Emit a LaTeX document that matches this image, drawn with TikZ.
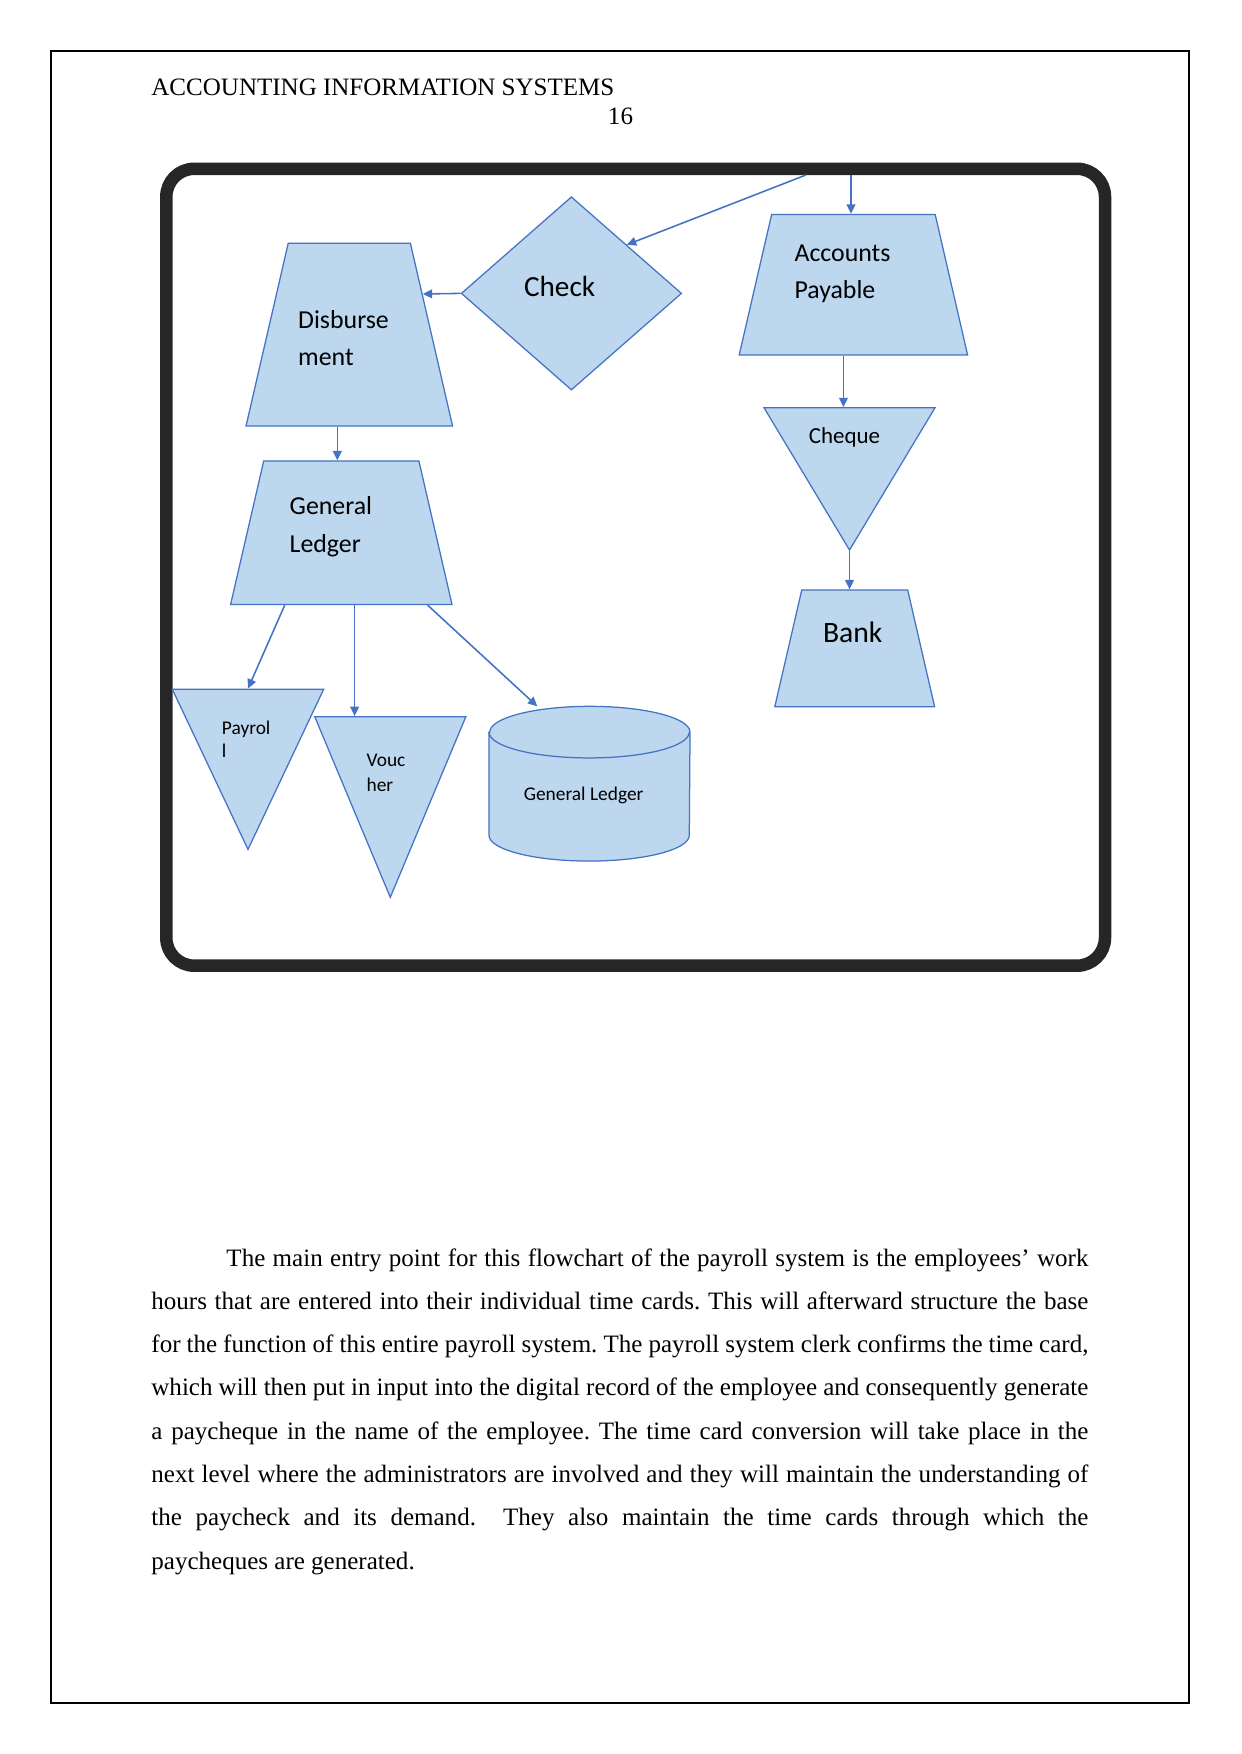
\documentclass[tikz,border=0pt]{standalone}
\usepackage{fontspec}
\setmainfont{Liberation Serif}
\newfontfamily\calibri{Carlito}
\usetikzlibrary{calc, arrows.meta, shapes.geometric}
\definecolor{shapefill}{RGB}{189,215,238}
\definecolor{shapeline}{RGB}{68,114,196}
\definecolor{framegray}{RGB}{38,38,38}

\begin{document}
\begin{tikzpicture}[
    x=0.4795pt, y=-0.4795pt,
    shapebox/.style={draw=shapeline, fill=shapefill, line width=0.6pt},
    trap/.style={shapebox, trapezium, trapezium angle=77},
    tri/.style={shapebox, trapezium, trapezium angle=#1, inner xsep=0pt},
    dec/.style={shapebox, diamond, inner sep=0pt},
    db/.style={inner sep=0pt, minimum width=96pt, minimum height=73.8pt},
    lbl/.style 2 args={font=\calibri\fontsize{#1pt}{#2pt}\selectfont,
      align=left, inner sep=0pt},
    flow/.style={draw=shapeline, line width=0.75pt,
      -{Triangle[length=4.5pt, width=4.2pt]}},
    frame/.style={draw=framegray, line width=6pt, rounded corners=13.4pt},
    page/.style={font=\fontsize{12pt}{13.8pt}\selectfont, inner sep=0pt},
  ]
  \useasboundingbox (0,0) rectangle (1241,1754);
  \draw[line width=0.6pt] (51,51) rectangle (1189,1703);

  % header
  \node[page, anchor=base west] (title) at (151,96) {ACCOUNTING INFORMATION SYSTEMS};
  \node[page, anchor=base] (pagenum) at (620.5,125) {16};

  % flowchart
  \draw[frame] (166.3,168.8) rectangle (1105,965.7);

  \node[dec, minimum width=105.7pt, minimum height=92.7pt,
    label={[lbl={14}{17}, shift={(-11.8,-6.7)}]center:Check}] (check) at (571.4,293.4) {};
  \node[trap, inner xsep=29.3pt, inner ysep=43.8pt,
    label={[lbl={12.4}{17.8}, shift={(-5.8,3.3)}]center:{Disburse\\ment}}] (disb) at (349.3,334.7) {};
  \node[trap, inner xsep=39.2pt, inner ysep=33.7pt,
    label={[lbl={12.4}{17.8}, shift={(-10.9,-10.8)}]center:{Accounts\\Payable}}] (ap) at (853.4,284.7) {};
  \node[tri=121, inner ysep=34.1pt,
    label={[lbl={11}{13}, shift={(-5,-41.6)}]center:Cheque}] (cheque) at (849.5,478.9) {};
  \node[trap, inner xsep=25.4pt, inner ysep=28pt,
    label={[lbl={14.2}{17}, shift={(-2,-16.4)}]center:Bank}] (bank) at (854.7,648.4) {};
  \node[trap, inner xsep=37.2pt, inner ysep=34.4pt,
    label={[lbl={12.4}{17.8}, shift={(-10.4,-6)}]center:{General\\Ledger}}] (gl) at (341.3,532.7) {};
  \node[tri=115.3, inner ysep=38.4pt,
    label={[lbl={9.3}{11.2}, shift={(-1.8,-30.3)}]center:{Payrol\\l}}] (payroll) at (248,769.3) {};
  \node[tri=112.7, inner ysep=43.3pt,
    label={[lbl={9.3}{12}, shift={(-4.3,-34.5)}]center:{Vouc\\her}}] (voucher) at (390.3,807) {};

  % database drum
  \node[db] (gldb) at (589.5,783.7) {};
  \draw[shapebox] ($(gldb.north west)+(0,25.8)$) -- ($(gldb.south west)+(0,-25.8)$)
    arc[start angle=180, end angle=0, x radius=100.15, y radius=25.8]
    -- ($(gldb.north east)+(0,25.8)$)
    arc[start angle=0, end angle=-180, x radius=100.15, y radius=25.8] -- cycle;
  \draw[draw=shapeline, line width=0.6pt] ($(gldb.north west)+(0,25.8)$)
    arc[start angle=180, end angle=0, x radius=100.15, y radius=25.8];
  \node[lbl={9.3}{11}] (gldbtext) at ($(gldb.center)+(-5.9,11.3)$) {General Ledger};

  % connectors
  \coordinate (apin) at (851,175);
  \coordinate (chkin) at (806,175);
  \draw[flow] (apin) -- (apin |- ap.north);
  \draw[flow] (chkin) -- (check.north east);
  \draw[flow] (check.west) -- (disb.29);
  \coordinate (disbout) at ($(disb.south)+(-12,0)$);
  \draw[flow] (disbout) -- (disbout |- gl.north);
  \draw[flow] (gl.232) -- (payroll.north);
  \coordinate (glout) at ($(gl.south)+(13.3,0)$);
  \draw[flow] (glout) -- (glout |- voucher.north);
  \draw[flow] (gl.320) -- (gldb.124);
  \coordinate (apout) at ($(ap.south)+(-10,0)$);
  \draw[flow] (apout) -- (apout |- cheque.north);
  \draw[flow] (cheque.south) -- (cheque.south |- bank.north);

  % text below
  \node[anchor=base west, inner sep=0pt, text width=449.3pt, align=justify,
    font=\fontsize{12pt}{20.76pt}\selectfont\frenchspacing] (para) at (151,1266)
    {\hspace*{36pt}The main entry point for this flowchart of the payroll system is the employees’ work\linebreak
    hours that are entered into their individual time cards. This will afterward structure the base\linebreak
    for the function of this entire payroll system. The payroll system clerk confirms the time card,\linebreak
    which will then put in input into the digital record of the employee and consequently generate\linebreak
    a paycheque in the name of the employee. The time card conversion will take place in the\linebreak
    next level where the administrators are involved and they will maintain the understanding of\linebreak
    the paycheck and its demand.\ \ They also maintain the time cards through which the\linebreak
    paycheques are generated.};
\end{tikzpicture}
\end{document}
